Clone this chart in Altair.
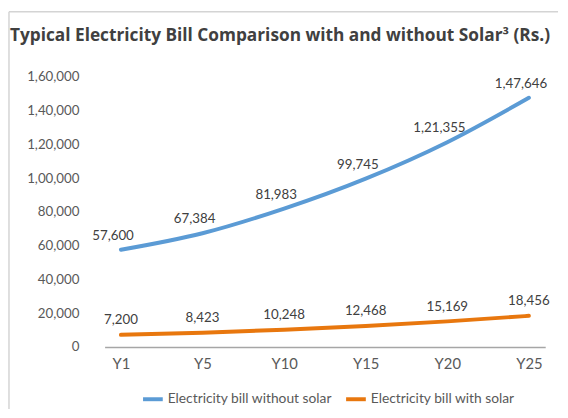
import altair as alt
import pandas as pd

years = ["Y1", "Y5", "Y10", "Y15", "Y20", "Y25"]
without_solar = [57600, 67384, 81983, 99745, 121355, 147646]
with_solar = [7200, 8423, 10248, 12468, 15169, 18456]
series_names = ["Electricity bill without solar", "Electricity bill with solar"]
y_ticks = [0, 20000, 40000, 60000, 80000, 100000, 120000, 140000, 160000]

rows = []
for name, vals in zip(series_names, [without_solar, with_solar]):
    for yr, v in zip(years, vals):
        rows.append({"series": name, "year": yr, "value": v})
df = pd.DataFrame(rows)

FONT = "Lato"
W, H = 447, 274

indian = ("datum.value >= 100000 ? floor(datum.value / 100000) + ',' + "
          "format(datum.value % 100000, '06,') : format(datum.value, ',')")

x = alt.X("year:N", sort=years,
          scale=alt.Scale(type="point", padding=0.2),
          axis=alt.Axis(title=None, labelFontSize=15, labelColor="#595959",
                        labelFont=FONT, domainColor="#A6A6A6", domainWidth=1.5,
                        ticks=False, labelPadding=10, grid=False, labelAngle=0))
y = alt.Y("value:Q", scale=alt.Scale(domain=[0, 160000]),
          axis=alt.Axis(title=None, values=y_ticks, labelExpr=indian,
                        domain=False, ticks=False, grid=False, labelPadding=26,
                        labelFontSize=13.5, labelColor="#595959", labelFont=FONT))

base = alt.Chart(df)

lines = base.mark_line(strokeWidth=4, interpolate="monotone", strokeCap="round").encode(
    x=x, y=y,
    color=alt.Color("series:N",
                    scale=alt.Scale(domain=series_names, range=["#5B9BD5", "#E8770E"]),
                    sort=series_names,
                    legend=alt.Legend(title=None, orient="none", legendX=37, legendY=315,
                                      direction="horizontal", symbolType="stroke",
                                      symbolStrokeWidth=4, symbolSize=400,
                                      labelFontSize=14, labelColor="#595959",
                                      labelFont=FONT, columnPadding=5, labelOffset=3,
                                      labelLimit=300)),
)

labels_blue = base.transform_filter(
    alt.datum.series == series_names[0]
).transform_calculate(
    label=indian
).mark_text(dy=-14, dx=-8, fontSize=13.5, color="#404040", font=FONT).encode(
    x=x, y=y, text="label:N"
)
labels_orange = base.transform_filter(
    alt.datum.series == series_names[1]
).transform_calculate(
    label=indian
).mark_text(dy=-15, fontSize=13.5, color="#404040", font=FONT).encode(
    x=x, y=y, text="label:N"
)

frame_data = alt.Chart(pd.DataFrame({"a": [0]}))
top_rule = frame_data.mark_rule(color="#D4D4D4", strokeWidth=1.5).encode(
    x=alt.value(-97), x2=alt.value(460), y=alt.value(-66))
left_rule = frame_data.mark_rule(color="#D4D4D4", strokeWidth=1.5).encode(
    x=alt.value(-97), y=alt.value(-66), y2=alt.value(345))

chart = alt.layer(top_rule, left_rule, lines, labels_blue, labels_orange).properties(
    width=W, height=H,
    title=alt.TitleParams(
        "Typical Electricity Bill Comparison with and without Solar³ (Rs.)",
        anchor="start", frame="group", dx=-96, dy=38, fontSize=17.5,
        fontWeight="bold", color="#404040", font="Open Sans"),
    autosize=alt.AutoSizeParams(type="none"),
    padding={"left": 98, "top": 67, "right": 15, "bottom": 60},
).configure_view(stroke=None)

chart.save("out.html", embed_options={"renderer": "svg", "actions": False})
